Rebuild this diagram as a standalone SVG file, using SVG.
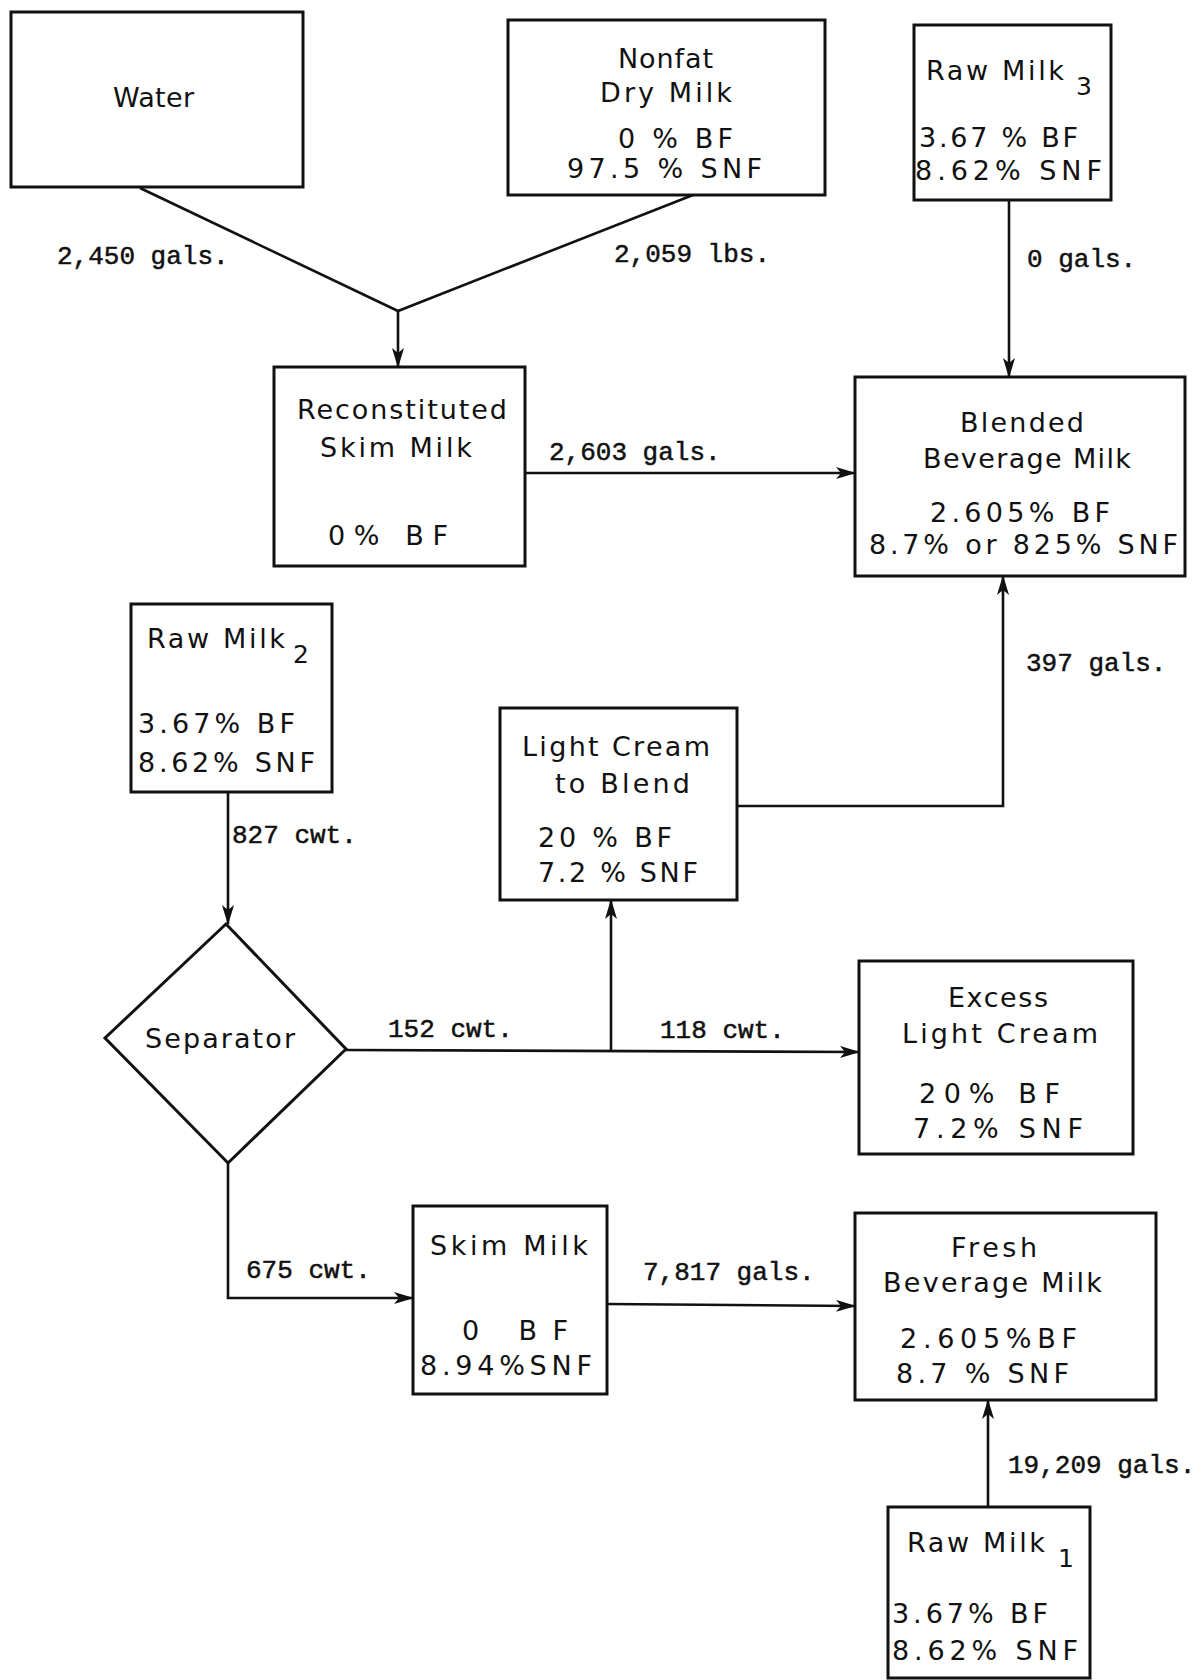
<svg xmlns="http://www.w3.org/2000/svg" width="1204" height="1680" viewBox="0 0 1204 1680">
<defs>
<marker id="arr" markerUnits="userSpaceOnUse" viewBox="0 0 20 12" markerWidth="20" markerHeight="12" refX="19" refY="6" orient="auto">
<path d="M0,0 L20,6 L0,12 L5,6 z" fill="#111"/>
</marker>
<style>
.box{fill:#fff;stroke:#111;stroke-width:3}
.t{font-family:"DejaVu Sans","Liberation Sans",sans-serif;font-size:27px;fill:#111}
.sub{font-family:"DejaVu Sans","Liberation Sans",sans-serif;font-size:25px;fill:#111}
.lbl{font-family:"Liberation Mono","Courier New",monospace;font-size:26px;fill:#111;stroke:#111;stroke-width:0.5}
.ln{fill:none;stroke:#111;stroke-width:2.6}
.ar{marker-end:url(#arr)}
</style>
</defs>
<rect width="1204" height="1680" fill="#fff"/>

<g id="connectors">
<path class="ln" d="M140,188 L398,311 L693,195"/>
<path class="ln ar" d="M398,311 L398,367"/>
<path class="ln ar" d="M1009,200 L1009,377"/>
<path class="ln ar" d="M525,473 L855,473"/>
<path class="ln ar" d="M737,806 L1003,806 L1003,576"/>
<path class="ln ar" d="M228,792 L228,924"/>
<path class="ln ar" d="M346,1050 L859,1052"/>
<path class="ln ar" d="M611,1051 L611,900"/>
<path class="ln ar" d="M228,1163 L228,1298 L413,1298"/>
<path class="ln ar" d="M607,1304 L855,1306"/>
<path class="ln ar" d="M988,1507 L988,1400"/>
<text class="lbl" x="57" y="264">2,450 gals.</text>
<text class="lbl" x="614" y="262">2,059 lbs.</text>
<text class="lbl" x="1027" y="267">0 gals.</text>
<text class="lbl" x="549" y="460">2,603 gals.</text>
<text class="lbl" x="1026" y="671">397 gals.</text>
<text class="lbl" x="232" y="843">827 cwt.</text>
<text class="lbl" x="388" y="1037">152 cwt.</text>
<text class="lbl" x="660" y="1038">118 cwt.</text>
<text class="lbl" x="246" y="1278">675 cwt.</text>
<text class="lbl" x="643" y="1280">7,817 gals.</text>
<text class="lbl" x="1008" y="1473">19,209 gals.</text>
</g>

<g id="water">
<rect class="box" x="11" y="12" width="292" height="175"/>
<text class="t" x="113" y="107" textLength="81" lengthAdjust="spacing">Water</text>
</g>

<g id="nonfat">
<rect class="box" x="508" y="20" width="317" height="175"/>
<text class="t" x="618" y="68" textLength="95" lengthAdjust="spacing">Nonfat</text>
<text class="t" x="600" y="102" textLength="132" lengthAdjust="spacing">Dry Milk</text>
<text class="t" x="618" y="148" textLength="115" lengthAdjust="spacing">0 % BF</text>
<text class="t" x="567" y="178" textLength="195" lengthAdjust="spacing">97.5 % SNF</text>
</g>

<g id="raw3">
<rect class="box" x="914" y="25" width="197" height="175"/>
<text class="t" x="926" y="80" textLength="138" lengthAdjust="spacing">Raw Milk</text>
<text class="sub" x="1076" y="95">3</text>
<text class="t" x="919" y="147" textLength="159" lengthAdjust="spacing">3.67 % BF</text>
<text class="t" x="915" y="180" textLength="187" lengthAdjust="spacing">8.62% SNF</text>
</g>

<g id="recon">
<rect class="box" x="274" y="367" width="251" height="199"/>
<text class="t" x="297" y="419" textLength="210" lengthAdjust="spacing">Reconstituted</text>
<text class="t" x="320" y="457" textLength="152" lengthAdjust="spacing">Skim Milk</text>
<text class="t" x="328" y="545" textLength="120" lengthAdjust="spacing">0% BF</text>
</g>

<g id="blended">
<rect class="box" x="855" y="377" width="330" height="199"/>
<text class="t" x="960" y="432" textLength="124" lengthAdjust="spacing">Blended</text>
<text class="t" x="923" y="468" textLength="208" lengthAdjust="spacing">Beverage Milk</text>
<text class="t" x="930" y="522" textLength="180" lengthAdjust="spacing">2.605% BF</text>
<text class="t" x="869" y="554" textLength="309" lengthAdjust="spacing">8.7% or 825% SNF</text>
</g>

<g id="raw2">
<rect class="box" x="131" y="604" width="201" height="188"/>
<text class="t" x="147" y="648" textLength="138" lengthAdjust="spacing">Raw Milk</text>
<text class="sub" x="293" y="663">2</text>
<text class="t" x="138" y="733" textLength="157" lengthAdjust="spacing">3.67% BF</text>
<text class="t" x="138" y="772" textLength="177" lengthAdjust="spacing">8.62% SNF</text>
</g>

<g id="lightcream">
<rect class="box" x="500" y="708" width="237" height="192"/>
<text class="t" x="522" y="756" textLength="188" lengthAdjust="spacing">Light Cream</text>
<text class="t" x="555" y="793" textLength="135" lengthAdjust="spacing">to Blend</text>
<text class="t" x="538" y="847" textLength="134" lengthAdjust="spacing">20 % BF</text>
<text class="t" x="538" y="882" textLength="160" lengthAdjust="spacing">7.2 % SNF</text>
</g>

<g id="separator">
<polygon class="box" points="226,924 346,1049 228,1163 105,1038"/>
<text class="t" x="145" y="1048" textLength="150" lengthAdjust="spacing">Separator</text>
</g>

<g id="excess">
<rect class="box" x="859" y="961" width="274" height="193"/>
<text class="t" x="948" y="1007" textLength="100" lengthAdjust="spacing">Excess</text>
<text class="t" x="902" y="1043" textLength="196" lengthAdjust="spacing">Light Cream</text>
<text class="t" x="919" y="1103" textLength="141" lengthAdjust="spacing">20% BF</text>
<text class="t" x="913" y="1138" textLength="170" lengthAdjust="spacing">7.2% SNF</text>
</g>

<g id="skim">
<rect class="box" x="413" y="1206" width="194" height="188"/>
<text class="t" x="430" y="1255" textLength="158" lengthAdjust="spacing">Skim Milk</text>
<text class="t" x="462" y="1340" textLength="106" lengthAdjust="spacing">0  BF</text>
<text class="t" x="420" y="1375" textLength="172" lengthAdjust="spacing">8.94%SNF</text>
</g>

<g id="fresh">
<rect class="box" x="855" y="1213" width="301" height="187"/>
<text class="t" x="951" y="1257" textLength="86" lengthAdjust="spacing">Fresh</text>
<text class="t" x="883" y="1292" textLength="219" lengthAdjust="spacing">Beverage Milk</text>
<text class="t" x="900" y="1348" textLength="177" lengthAdjust="spacing">2.605%BF</text>
<text class="t" x="896" y="1383" textLength="173" lengthAdjust="spacing">8.7 % SNF</text>
</g>

<g id="raw1">
<rect class="box" x="888" y="1507" width="202" height="171"/>
<text class="t" x="907" y="1552" textLength="138" lengthAdjust="spacing">Raw Milk</text>
<text class="sub" x="1058" y="1567">1</text>
<text class="t" x="892" y="1623" textLength="156" lengthAdjust="spacing">3.67% BF</text>
<text class="t" x="892" y="1660" textLength="186" lengthAdjust="spacing">8.62% SNF</text>
</g>
</svg>
